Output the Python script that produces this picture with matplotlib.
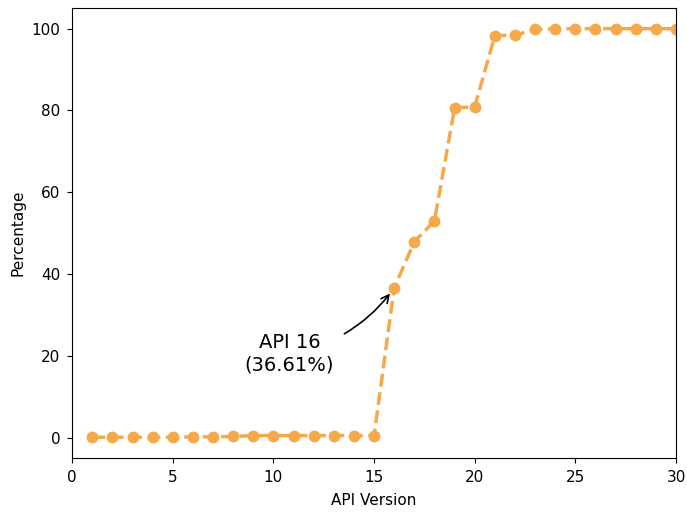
import matplotlib
matplotlib.use("Agg")
import matplotlib.pyplot as plt

api_versions = list(range(1, 31))
percentages = [0.1, 0.1, 0.1, 0.1, 0.1, 0.2, 0.2, 0.3, 0.5, 0.5,
               0.5, 0.5, 0.5, 0.5, 0.5, 36.61, 47.9, 53.0, 80.6, 80.9,
               98.3, 98.4, 99.8, 100, 100, 100, 100, 100, 100, 100]

fig, ax = plt.subplots(figsize=(6.87, 5.13), dpi=100)
fig.subplots_adjust(left=0.105, right=0.984, top=0.984, bottom=0.107)

ax.plot(api_versions, percentages, color='#f5a94a', linestyle='--',
        linewidth=2.5, marker='o', markersize=7.5)

ax.annotate('API 16\n(36.61%)', xy=(16, 36.61), xytext=(10.8, 20.5),
            fontsize=14, ha='center', va='center',
            arrowprops=dict(arrowstyle='->', color='black', lw=1.2,
                            connectionstyle='arc3,rad=0.2',
                            shrinkA=6, shrinkB=5))

ax.set_xlim(0, 30)
ax.set_ylim(-5, 105)
ax.set_xlabel('API Version', fontsize=11, labelpad=6)
ax.set_ylabel('Percentage', fontsize=11)
ax.tick_params(labelsize=11, pad=5)

fig.savefig('out.png', dpi=100)
